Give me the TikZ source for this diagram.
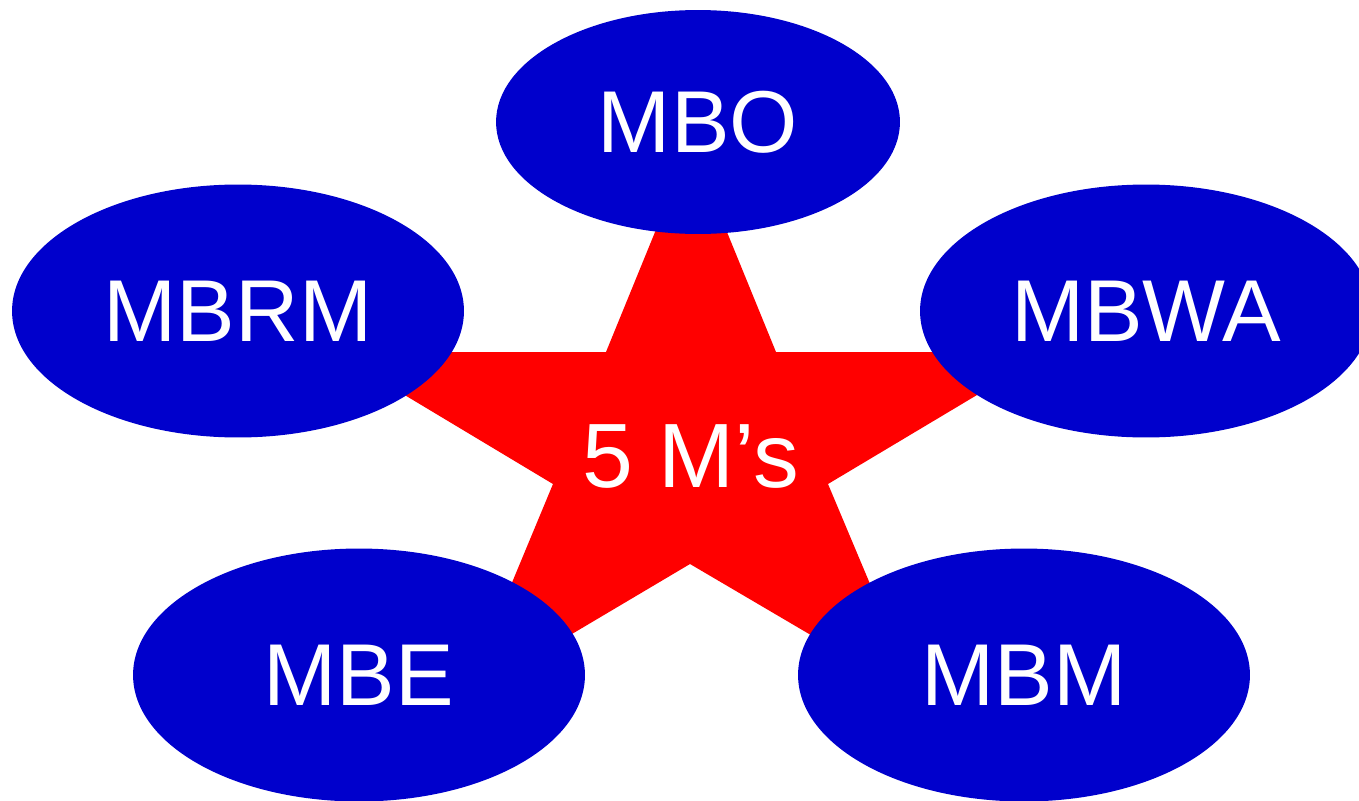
\documentclass[tikz,border=0pt]{standalone}
\usepackage{fontspec}
\setmainfont{Liberation Sans}
\usetikzlibrary{shapes.geometric}

\definecolor{mblue}{RGB}{0,0,204}
\definecolor{mred}{RGB}{255,0,0}

\tikzset{
    mbox/.style={ellipse, fill=mblue, text=white, inner sep=0pt,
        minimum width=9.04cm, minimum height=5.06cm,
        font=\fontsize{50}{60}\selectfont},
}

\begin{document}
\begin{tikzpicture}[x=0.02cm, y=-0.02cm]
    % frame
    \useasboundingbox (0, 0) rectangle (1359, 801);
    \clip (0, 0) rectangle (1359, 801);

    % star
    \fill[mred] (691, 144) -- (776, 352) -- (1049, 352) -- (828, 484)
        -- (918, 698) -- (690, 564) -- (464, 698) -- (553, 484)
        -- (333, 352) -- (606, 352) -- cycle;
    \node[text=white, font=\fontsize{52}{62}\selectfont] (center) at (691, 457) {5 M’s};

    % the five M's
    \node[mbox, minimum width=8.08cm, minimum height=4.48cm] (mbo) at (698, 122) {MBO};
    \node[mbox] (mbrm) at (238, 311) {MBRM};
    \node[mbox] (mbwa) at (1146, 311) {MBWA};
    \node[mbox] (mbe) at (359, 675) {MBE};
    \node[mbox] (mbm) at (1024, 675) {MBM};
\end{tikzpicture}
\end{document}
